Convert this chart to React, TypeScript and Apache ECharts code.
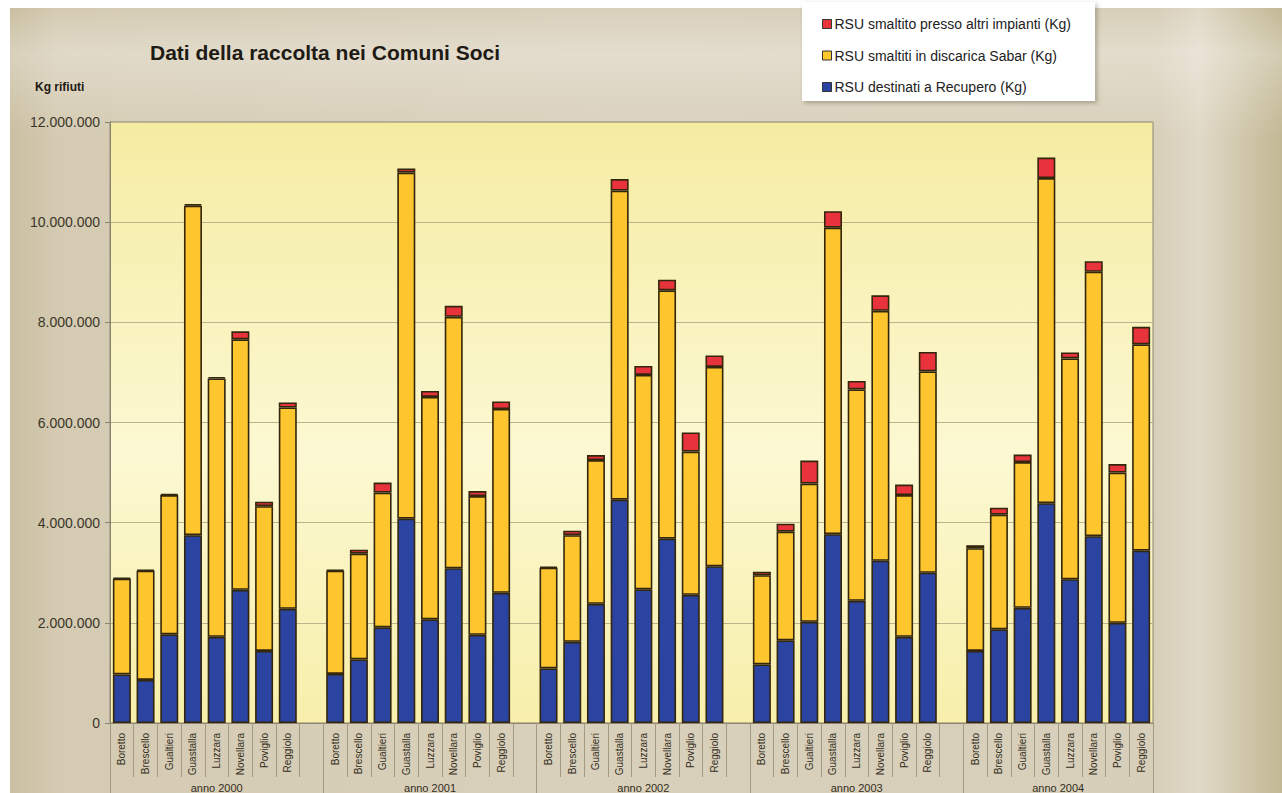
import React, { useEffect, useRef } from "react";
import * as echarts from "echarts";

// Comuni soci and collection years
const comuni = ["Boretto", "Brescello", "Gualtieri", "Guastalla", "Luzzara", "Novellara", "Poviglio", "Reggiolo"];
const anni = ["anno 2000", "anno 2001", "anno 2002", "anno 2003", "anno 2004"];

// Kg per year (rows) and comune (columns)
const recupero = [
  [970000, 860000, 1770000, 3750000, 1720000, 2660000, 1440000, 2280000],
  [980000, 1270000, 1910000, 4080000, 2070000, 3090000, 1760000, 2600000],
  [1090000, 1620000, 2380000, 4460000, 2670000, 3680000, 2560000, 3130000],
  [1170000, 1650000, 2020000, 3770000, 2440000, 3240000, 1720000, 3000000],
  [1440000, 1870000, 2300000, 4390000, 2870000, 3730000, 2000000, 3440000],
];
const discaricaSabar = [
  [1910000, 2180000, 2780000, 6580000, 5160000, 5000000, 2890000, 4020000],
  [2060000, 2110000, 2690000, 6910000, 4440000, 5020000, 2770000, 3670000],
  [2010000, 2130000, 2870000, 6170000, 4280000, 4960000, 2860000, 3980000],
  [1780000, 2170000, 2760000, 6120000, 4220000, 4990000, 2830000, 4020000],
  [2050000, 2290000, 2910000, 6490000, 4410000, 5280000, 3000000, 4120000],
];
const altriImpianti = [
  [20000, 20000, 20000, 30000, 30000, 160000, 90000, 100000],
  [20000, 80000, 200000, 80000, 120000, 220000, 100000, 150000],
  [20000, 90000, 100000, 230000, 180000, 210000, 380000, 230000],
  [70000, 160000, 460000, 330000, 170000, 310000, 210000, 390000],
  [60000, 140000, 150000, 410000, 120000, 210000, 170000, 350000],
];

const seriesNames = [
  "RSU destinati a Recupero (Kg)",
  "RSU smaltiti in discarica Sabar (Kg)",
  "RSU smaltito presso altri impianti (Kg)",
];
const seriesColors = ["#2b44a2", "#fdc62e", "#e8333d"];

const yMax = 12000000;
const yStep = 2000000;

// Category slots: eight comuni per year, with an empty slot between years
type Slot = { year: number; comune: number } | null;
const slots: Slot[] = [];
const groupStarts: number[] = [];
const groupCenters: number[] = [];
anni.forEach((_, y) => {
  const start = slots.length;
  groupStarts.push(start);
  comuni.forEach((_, c) => slots.push({ year: y, comune: c }));
  if (y < anni.length - 1) slots.push(null);
  groupCenters.push((start + slots.length) / 2);
});
const slotLabels = slots.map((s) => (s ? comuni[s.comune] : ""));

const pick = (table: number[][]) => slots.map((s) => (s ? table[s.year][s.comune] : "-"));

const formatKg = (v: number) => String(v).replace(/\B(?=(\d{3})+(?!\d))/g, ".");

const FONT = "'Liberation Sans', Arial, sans-serif";

export default function App() {
  const ref = useRef<HTMLDivElement>(null);

  useEffect(() => {
    if (!ref.current) return;
    const chart = echarts.init(ref.current, undefined, { renderer: "svg" });
    const tables = [recupero, discaricaSabar, altriImpianti];

    chart.setOption({
      animation: false,
      backgroundColor: "#ffffff",
      textStyle: { fontFamily: FONT },
      title: {
        text: "Dati della raccolta nei Comuni Soci",
        left: 150,
        top: 42,
        padding: 0,
        textStyle: { fontFamily: FONT, fontSize: 21, fontWeight: "bold", color: "#1e1a14" },
      },
      graphic: [
        {
          type: "rect",
          z: -100,
          silent: true,
          shape: { x: 10, y: 8, width: 1272, height: 785 },
          style: {
            fill: new echarts.graphic.LinearGradient(0, 0, 1, 0, [
              { offset: 0, color: "#c9bfa1" },
              { offset: 0.04, color: "#d5cbb3" },
              { offset: 0.45, color: "#d9d0bb" },
              { offset: 0.9, color: "#d7cfb9" },
              { offset: 0.935, color: "#e0d9c7" },
              { offset: 1, color: "#c3b894" },
            ]),
          },
        },
        {
          type: "rect",
          z: -99,
          silent: true,
          shape: { x: 10, y: 8, width: 1272, height: 130 },
          style: {
            fill: new echarts.graphic.LinearGradient(0, 0, 0, 1, [
              { offset: 0, color: "rgba(255,255,255,0)" },
              { offset: 0.35, color: "rgba(255,255,255,0.28)" },
              { offset: 1, color: "rgba(255,255,255,0)" },
            ]),
          },
        },
        {
          type: "text",
          left: 35,
          top: 81,
          style: { text: "Kg rifiuti", font: `bold 12px ${FONT}`, fill: "#1e1a14" },
        },
      ],
      legend: {
        orient: "vertical",
        left: 802,
        top: 2,
        padding: [14, 24, 6, 20],
        itemGap: 15.5,
        itemWidth: 9,
        itemHeight: 9,
        backgroundColor: "#ffffff",
        shadowColor: "rgba(60,50,30,0.35)",
        shadowBlur: 4,
        shadowOffsetX: 2,
        shadowOffsetY: 2,
        data: [seriesNames[2], seriesNames[1], seriesNames[0]],
        icon: "rect",
        itemStyle: { borderColor: "#333333", borderWidth: 1 },
        textStyle: { fontFamily: FONT, fontSize: 14, color: "#222222", lineHeight: 16, padding: [0, 0, 0, -2] },
      },
      grid: {
        left: 110,
        right: 129,
        top: 122,
        bottom: 70,
        show: true,
        borderColor: "#8c8472",
        borderWidth: 1,
        backgroundColor: new echarts.graphic.LinearGradient(0, 0, 0, 1, [
          { offset: 0, color: "#f5eca2" },
          { offset: 0.55, color: "#fcf8d2" },
          { offset: 1, color: "#f7efaa" },
        ]),
      },
      xAxis: [
        {
          type: "category",
          data: slotLabels,
          position: "bottom",
          axisLine: { lineStyle: { color: "#8c8472" } },
          axisTick: { show: true, interval: 0, length: 54, lineStyle: { color: "#a39a80" } },
          axisLabel: { interval: 0, rotate: 90, fontSize: 10, margin: 10, color: "#332e22", fontFamily: FONT },
          splitLine: { show: false },
        },
        {
          type: "category",
          data: slotLabels,
          position: "bottom",
          axisLine: { show: false },
          axisTick: {
            show: true,
            interval: (i: number) => groupStarts.includes(i),
            length: 75,
            lineStyle: { color: "#a39a80" },
          },
          axisLabel: { show: false },
          splitLine: { show: false },
        },
        {
          type: "value",
          min: 0,
          max: slots.length,
          interval: 0.5,
          position: "bottom",
          axisLine: { show: false },
          axisTick: { show: false },
          splitLine: { show: false },
          axisLabel: {
            margin: 59,
            fontSize: 11,
            color: "#332e22",
            fontFamily: FONT,
            showMinLabel: true,
            showMaxLabel: true,
            formatter: (v: number) => {
              const i = groupCenters.findIndex((c) => Math.abs(c - v) < 0.01);
              return i >= 0 ? anni[i] : "";
            },
          },
        },
      ],
      yAxis: {
        type: "value",
        min: 0,
        max: yMax,
        interval: yStep,
        axisLine: { show: true, lineStyle: { color: "#8c8472" } },
        axisTick: { show: true, length: 5, lineStyle: { color: "#8c8472" } },
        axisLabel: { formatter: formatKg, fontSize: 14, color: "#3a3528", margin: 10, fontFamily: FONT },
        splitLine: { lineStyle: { color: "#bdb38e", width: 1 } },
      },
      series: tables.map((table, k) => ({
        name: seriesNames[k],
        type: "bar",
        stack: "rsu",
        xAxisIndex: 0,
        barWidth: 18,
        data: pick(table),
        itemStyle: { color: seriesColors[k], borderColor: "#33260c", borderWidth: 1.6 },
      })),
    });

    return () => chart.dispose();
  }, []);

  return (
    <div
      ref={ref}
      style={{ position: "fixed", left: 0, top: 0, width: 1282, height: 793 }}
    />
  );
}
